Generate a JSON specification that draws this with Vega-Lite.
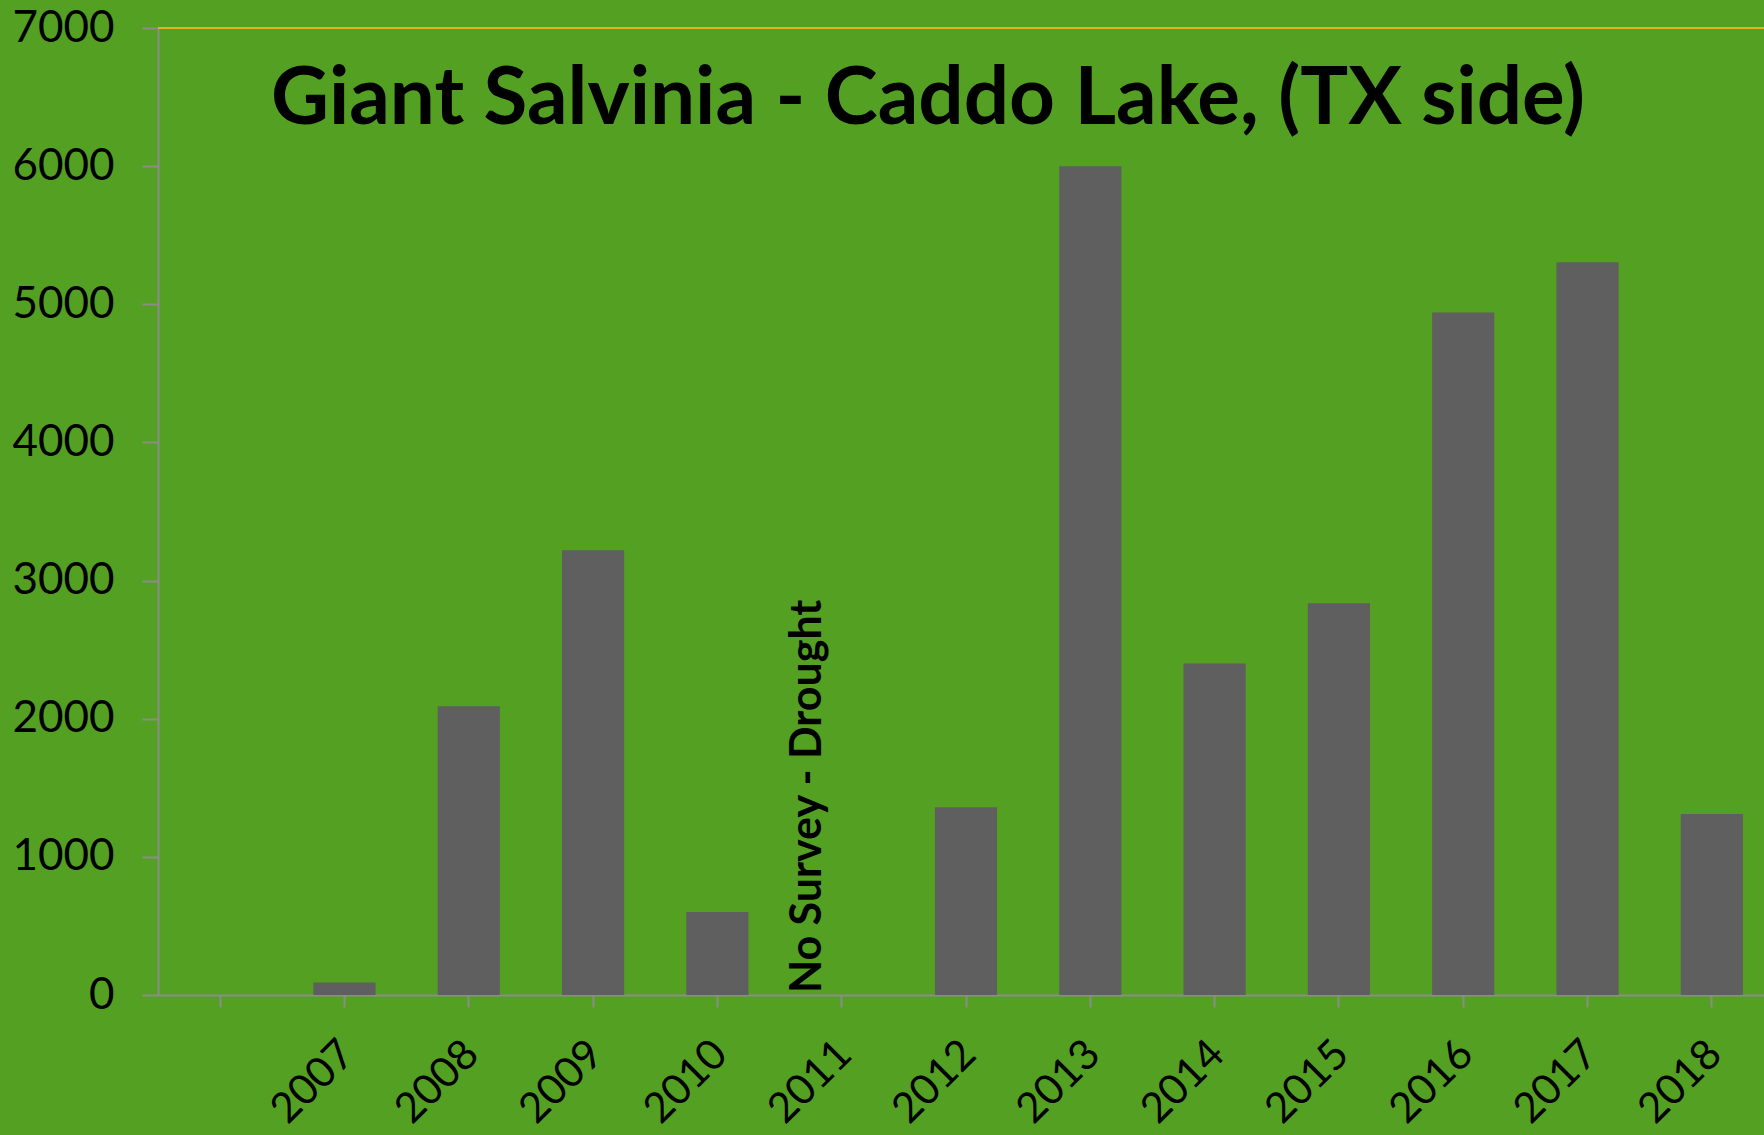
{
  "$schema": "https://vega.github.io/schema/vega-lite/v6.json",
  "autosize": {"type": "none"},
  "width": 1606,
  "height": 967,
  "padding": {"left": 158, "top": 28, "right": 0, "bottom": 140},
  "background": "#54A022",
  "config": {
    "view": {"stroke": null},
    "font": "Lato"
  },
  "data": {
    "values": [
      {"year": "2007", "acres": 90},
      {"year": "2008", "acres": 2090},
      {"year": "2009", "acres": 3220},
      {"year": "2010", "acres": 600},
      {"year": "2011", "acres": null, "note": "No Survey - Drought"},
      {"year": "2012", "acres": 1360},
      {"year": "2013", "acres": 6000},
      {"year": "2014", "acres": 2400},
      {"year": "2015", "acres": 2835},
      {"year": "2016", "acres": 4940},
      {"year": "2017", "acres": 5305},
      {"year": "2018", "acres": 1310}
    ]
  },
  "encoding": {
    "x": {
      "field": "year",
      "type": "nominal",
      "sort": null,
      "scale": {
        "domain": [" ", "2007", "2008", "2009", "2010", "2011", "2012", "2013", "2014", "2015", "2016", "2017", "2018"],
        "range": [0, 1616],
        "paddingInner": 0.5,
        "paddingOuter": 0.25
      },
      "axis": {
        "title": null,
        "domainColor": "#8C8C8C",
        "domainWidth": 2,
        "tickColor": "#8C8C8C",
        "tickWidth": 2,
        "tickSize": 12,
        "labelAngle": -45,
        "labelAlign": "right",
        "labelBaseline": "middle",
        "labelFont": "Lato",
        "labelFontSize": 42,
        "labelColor": "#000000",
        "labelPadding": 40,
        "labelOffset": 3,
        "labelFlush": false,
        "labelOverlap": false
      }
    }
  },
  "layer": [
    {
      "mark": {"type": "bar", "color": "#5F5F5F"},
      "encoding": {
        "y": {
          "field": "acres",
          "type": "quantitative",
          "scale": {"domain": [0, 7000], "nice": false},
          "axis": {
            "title": null,
            "format": "d",
            "values": [0, 1000, 2000, 3000, 4000, 5000, 6000, 7000],
            "grid": false,
            "domainColor": "#8C8C8C",
            "domainWidth": 2,
            "tickColor": "#8C8C8C",
            "tickWidth": 2,
            "tickSize": 16,
            "labelFont": "Lato",
            "labelFontSize": 44,
            "labelColor": "#000000",
            "labelPadding": 28
          }
        }
      }
    },
    {
      "mark": {"type": "rule", "color": "#E6B320", "strokeWidth": 2},
      "encoding": {
        "y": {"datum": 7000},
        "x": null
      }
    },
    {
      "transform": [{"filter": "datum.note != null"}],
      "mark": {
        "type": "text",
        "angle": 270,
        "align": "left",
        "baseline": "alphabetic",
        "font": "Lato",
        "fontSize": 43,
        "fontWeight": "bold",
        "color": "#000000",
        "dx": 2,
        "dy": -21
      },
      "encoding": {
        "y": {"datum": 0},
        "text": {"field": "note"}
      }
    },
    {
      "data": {"values": [{"title": "Giant Salvinia - Caddo Lake, (TX side)"}]},
      "mark": {
        "type": "text",
        "align": "center",
        "baseline": "alphabetic",
        "font": "Lato",
        "fontSize": 80,
        "fontWeight": "bold",
        "color": "#000000",
        "dx": -38
      },
      "encoding": {
        "x": {"datum": "2012"},
        "y": {"datum": 6306},
        "text": {"field": "title"}
      }
    }
  ]
}
